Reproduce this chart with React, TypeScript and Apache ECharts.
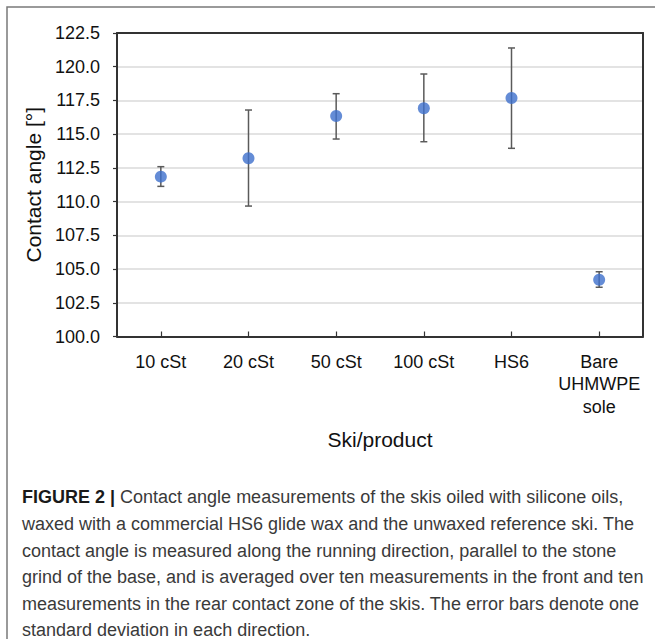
import React, { useEffect, useRef } from "react";
import * as echarts from "echarts";

const categories = ["10 cSt", "20 cSt", "50 cSt", "100 cSt", "HS6", "Bare\nUHMWPE\nsole"];
const means = [111.85, 113.21, 116.35, 116.92, 117.68, 104.21];
const lows = [111.13, 109.67, 114.64, 114.44, 113.95, 103.65];
const highs = [112.59, 116.79, 118.0, 119.46, 121.39, 104.8];
const yMin = 100;
const yMax = 122.5;
const yStep = 2.5;
const xTitle = "Ski/product";
const yTitle = "Contact angle [°]";
const captionLines = [
  "Contact angle measurements of the skis oiled with silicone oils,",
  "waxed with a commercial HS6 glide wax and the unwaxed reference ski. The",
  "contact angle is measured along the running direction, parallel to the stone",
  "grind of the base, and is averaged over ten measurements in the front and ten",
  "measurements in the rear contact zone of the skis. The error bars denote one",
  "standard deviation in each direction.",
];
const captionLabel = "FIGURE 2 |";

export default function App() {
  const ref = useRef<HTMLDivElement>(null);
  useEffect(() => {
    if (!ref.current) return;
    const chart = echarts.init(ref.current, undefined, { renderer: "svg" });
    const font = "'Liberation Sans', Arial, sans-serif";
    const errData = categories.map((_, i) => [i, lows[i], highs[i]]);
    const captionText =
      "{b|" + captionLabel + "}{n| " + captionLines[0] + "}\n" +
      captionLines.slice(1).map((l) => "{n|" + l + "}").join("\n");
    const frameLine = { show: true, lineStyle: { color: "#333333", width: 2 } };
    chart.setOption({
      animation: false,
      backgroundColor: "#ffffff",
      textStyle: { fontFamily: font },
      grid: {
        left: 117,
        top: 33,
        right: 12,
        bottom: 302.5,
        show: false,
      },
      xAxis: [
        {
          type: "category",
          data: categories,
          axisLine: frameLine,
          axisTick: { show: true, inside: true, alignWithLabel: true, length: 5, lineStyle: { color: "#333333", width: 1.2 } },
          axisLabel: { color: "#111111", fontSize: 18, fontFamily: font, lineHeight: 22.5, margin: 14, interval: 0 },
          name: xTitle,
          nameLocation: "middle",
          nameGap: 92,
          nameTextStyle: { color: "#111111", fontSize: 21, fontFamily: font },
          splitLine: { show: false },
        },
        {
          type: "category",
          data: categories,
          position: "top",
          axisLine: frameLine,
          axisTick: { show: false },
          axisLabel: { show: false },
          splitLine: { show: false },
        },
      ],
      yAxis: [
        {
          type: "value",
          min: yMin,
          max: yMax,
          interval: yStep,
          axisLine: frameLine,
          axisTick: { show: true, inside: false, length: 4, lineStyle: { color: "#333333", width: 1.2 } },
          axisLabel: {
            color: "#111111",
            fontSize: 18,
            fontFamily: font,
            margin: 17,
            formatter: (v: number) => v.toFixed(1),
          },
          splitLine: { show: true, lineStyle: { color: "#dadada", width: 1.5 } },
          name: yTitle,
          nameLocation: "middle",
          nameRotate: 90,
          nameGap: 70,
          nameTextStyle: { color: "#111111", fontSize: 21, fontFamily: font },
        },
        {
          type: "value",
          min: yMin,
          max: yMax,
          interval: yStep,
          position: "right",
          axisLine: frameLine,
          axisTick: { show: false },
          axisLabel: { show: false },
          splitLine: { show: false },
        },
      ],
      graphic: [
        {
          type: "rect",
          shape: { x: 7, y: 7, width: 700, height: 700 },
          style: { fill: "none", stroke: "#7a7a7a", lineWidth: 1.5 },
          silent: true,
        },
        {
          type: "text",
          left: 22,
          top: 484,
          style: {
            text: captionText,
            fontFamily: font,
            fontSize: 18,
            lineHeight: 26.6,
            fill: "#333333",
            rich: {
              b: { fontWeight: "bold", fontSize: 18, fill: "#1a1a1a", fontFamily: font, lineHeight: 26.6 },
              n: { fontSize: 18, fill: "#3a3a3a", fontFamily: font, lineHeight: 26.6 },
            },
          },
        },
      ],
      series: [
        {
          type: "custom",
          data: errData,
          xAxisIndex: 0,
          yAxisIndex: 0,
          z: 2,
          renderItem: (params: any, api: any) => {
            const x = api.value(0);
            const lo = api.coord([x, api.value(1)]);
            const hi = api.coord([x, api.value(2)]);
            const w = 3.5;
            const style = { stroke: "#5a5a5a", lineWidth: 1.5 };
            return {
              type: "group",
              children: [
                { type: "line", shape: { x1: hi[0], y1: hi[1], x2: lo[0], y2: lo[1] }, style },
                { type: "line", shape: { x1: hi[0] - w, y1: hi[1], x2: hi[0] + w, y2: hi[1] }, style },
                { type: "line", shape: { x1: lo[0] - w, y1: lo[1], x2: lo[0] + w, y2: lo[1] }, style },
              ],
            };
          },
        },
        {
          type: "scatter",
          data: means,
          xAxisIndex: 0,
          yAxisIndex: 0,
          symbol: "circle",
          symbolSize: 12,
          z: 3,
          itemStyle: { color: "#3d6fcc" },
        },
      ],
    });
    return () => chart.dispose();
  }, []);
  return (
    <div
      ref={ref}
      style={{ position: "absolute", left: 0, top: 0, width: 655, height: 639 }}
    />
  );
}
